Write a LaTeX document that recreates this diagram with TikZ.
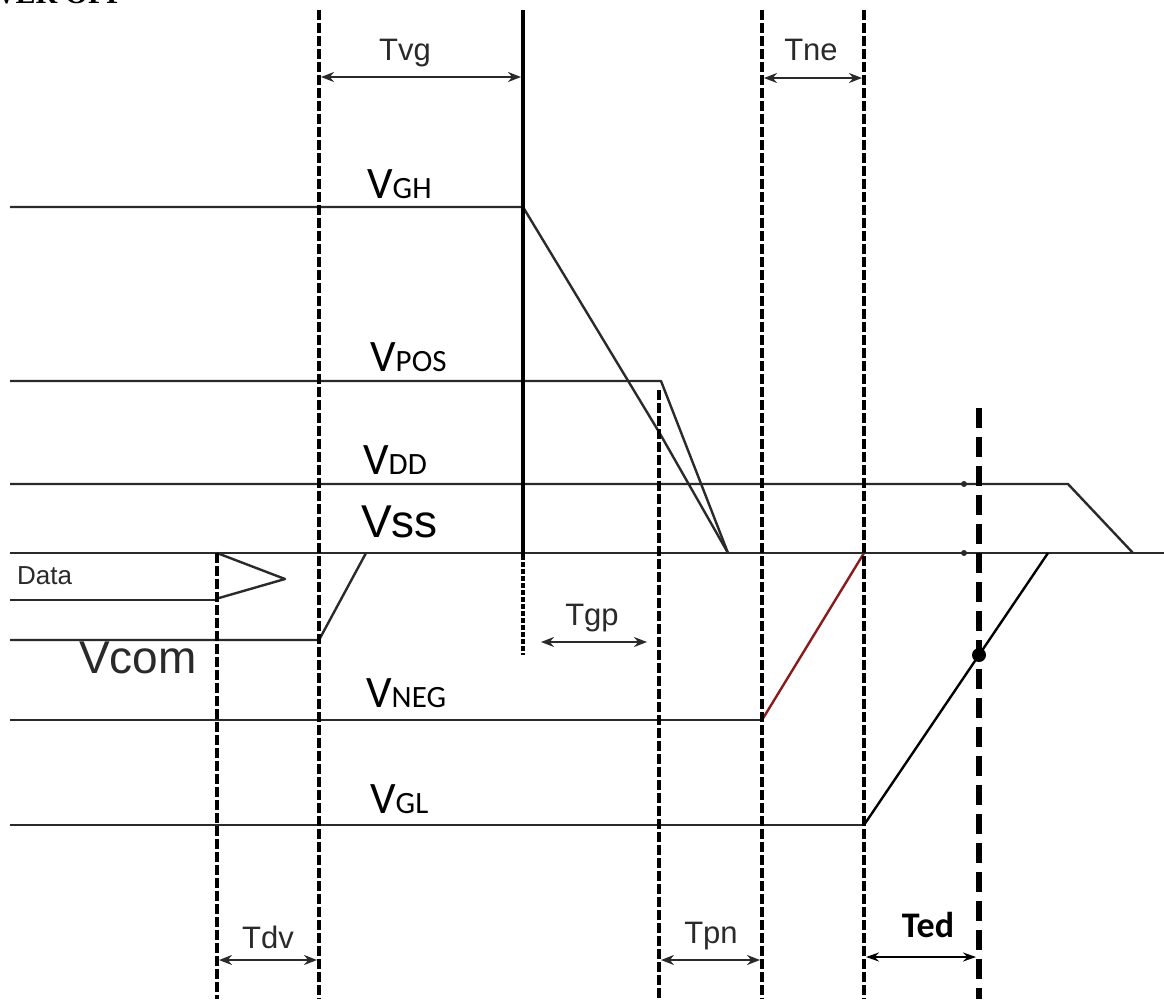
\documentclass[tikz,border=0pt]{standalone}
\usepackage{fontspec}
\setmainfont{Liberation Sans}
\newfontfamily\calfont{Carlito}
\newfontfamily\titlefont{Liberation Serif}
\usetikzlibrary{arrows.meta}
\definecolor{sigcol}{HTML}{2A2A2A}
\definecolor{redline}{HTML}{8B1A1A}
\tikzset{
  sig/.style={line width=2.4pt, draw=sigcol, line join=round},
  vdash/.style={line width=3.4pt, draw=black, dash pattern=on 10pt off 3pt},
  vsolid/.style={line width=3.2pt, draw=black},
  vthick/.style={line width=6pt, draw=black, dash pattern=on 20pt off 9pt},
  dimline/.style={line width=2.2pt, draw=sigcol, {Stealth[length=13pt,width=10pt]}-{Stealth[length=13pt,width=10pt]}},
  tlab/.style={inner sep=0pt, text=sigcol, font=\fontsize{31}{31}\selectfont},
  vlab/.style={inner sep=0pt, anchor=base west, text=black},
}
\newcommand{\Vlab}[1]{{\calfont\fontsize{45}{45}\selectfont V\fontsize{31}{31}\selectfont #1}}
\begin{document}
\begin{tikzpicture}[x=1pt,y=-1pt]
\clip (0,0) rectangle (1164,999);
\fill[white] (0,0) rectangle (1164,999);

% title (cut off at the top edge, as in the reference)
\node[inner sep=0pt, anchor=base east, font=\titlefont\bfseries\fontsize{30}{30}\selectfont] (title) at (125,3) {POWER OFF};

% key coordinates
\coordinate (vghA) at (10,207);
\coordinate (vghB) at (523,207);
\coordinate (vghC) at (659,432);
\coordinate (endA) at (728,553);
\coordinate (vposA) at (10,381);
\coordinate (vposB) at (661,381);
\coordinate (vddA) at (10,484);
\coordinate (vddB) at (1068,484);
\coordinate (vddC) at (1133,553);
\coordinate (vssA) at (10,553);
\coordinate (vssB) at (1164,553);
\coordinate (dataA) at (10,600);
\coordinate (dataB) at (218,600);
\coordinate (triT) at (217,553);
\coordinate (triP) at (285,579);
\coordinate (triB) at (219,598);
\coordinate (vcomA) at (10,640);
\coordinate (vcomB) at (319,640);
\coordinate (vcomC) at (366,553);
\coordinate (vnegA) at (10,720);
\coordinate (vnegB) at (762,720);
\coordinate (vnegC) at (864,553);
\coordinate (vglA) at (10,825);
\coordinate (vglB) at (864,825);
\coordinate (vglC) at (1048,553);

% vertical timing lines
\coordinate (l1t) at (217,553);  \coordinate (l1b) at (217,999);
\coordinate (l2t) at (319,10);   \coordinate (l2b) at (319,999);
\coordinate (l3t) at (523,10);   \coordinate (l3m) at (523,555); \coordinate (l3b) at (523,655);
\coordinate (l4t) at (659,390);  \coordinate (l4b) at (659,999);
\coordinate (l5t) at (762,10);   \coordinate (l5b) at (762,999);
\coordinate (l6t) at (864,10);   \coordinate (l6b) at (864,999);
\coordinate (l7t) at (979,408);  \coordinate (l7b) at (979,999);

% signal lines
\draw[sig] (vghA) -- (vghB) -- (vghC) -- (endA);
\draw[sig] (vposA) -- (vposB) -- (endA);
\draw[sig] (vddA) -- (vddB) -- (vddC);
\draw[sig] (vssA) -- (vssB);
\draw[sig] (dataA) -- (dataB);
\draw[sig] (triT) -- (triP) -- (triB);
\draw[sig] (vcomA) -- (vcomB) -- (vcomC);
\draw[sig] (vnegA) -- (vnegB);
\draw[line width=2.4pt, draw=redline] (vnegB) -- (vnegC);
\draw[sig] (vglA) -- (vglB);
\draw[line width=2.4pt, draw=black] (vglB) -- (vglC);

\fill[sigcol] (964,484) circle (3pt);
\fill[sigcol] (964,553) circle (3pt);

% vertical lines
\draw[vdash] (l1t) -- (l1b);
\draw[vdash] (l2t) -- (l2b);
\draw[vsolid] (l3t) -- (l3m);
\draw[vdash, dash pattern=on 5pt off 2pt] (l3m) -- (l3b);
\draw[vdash] (l4t) -- (l4b);
\draw[vdash] (l5t) -- (l5b);
\draw[vdash] (l6t) -- (l6b);
\draw[vthick] (l7t) -- (l7b);

\fill[black] (979,655) circle (7pt);

% dimension arrows
\coordinate (tvgA) at (321,77);  \coordinate (tvgB) at (521,77);
\coordinate (tneA) at (764,78);  \coordinate (tneB) at (862,78);
\coordinate (tgpA) at (541,642); \coordinate (tgpB) at (647,642);
\coordinate (tdvA) at (219,960); \coordinate (tdvB) at (317,960);
\coordinate (tpnA) at (661,960); \coordinate (tpnB) at (760,960);
\coordinate (tedA) at (866,957); \coordinate (tedB) at (976,957);
\draw[dimline] (tvgA) -- (tvgB);
\draw[dimline] (tneA) -- (tneB);
\draw[dimline] (tgpA) -- (tgpB);
\draw[dimline] (tdvA) -- (tdvB);
\draw[dimline] (tpnA) -- (tpnB);
\draw[line width=2pt, draw=black, {Stealth[length=13pt,width=9pt]}-{Stealth[length=13pt,width=9pt]}] (tedA) -- (tedB);

% dimension labels
\node[tlab, anchor=base] (ltvg) at (405,60) {Tvg};
\node[tlab, anchor=base] (ltne) at (811,60) {Tne};
\node[tlab, anchor=base] (ltgp) at (592,625) {Tgp};
\node[tlab, anchor=base] (ltdv) at (268,948) {Tdv};
\node[tlab, anchor=base] (ltpn) at (711,943) {Tpn};
\node[inner sep=0pt, anchor=base, font=\calfont\bfseries\fontsize{36}{36}\selectfont] (lted) at (928,937) {Ted};

% signal labels
\node[vlab] (lvgh) at (367,198) {\Vlab{GH}};
\node[vlab] (lvpos) at (370,371) {\Vlab{POS}};
\node[vlab] (lvdd) at (363,474) {\Vlab{DD}};
\node[vlab, font=\fontsize{46}{46}\selectfont] (lvss) at (361,537) {Vss};
\node[vlab, font=\fontsize{26}{26}\selectfont, text=sigcol] (ldata) at (17,584) {Data};
\node[vlab, font=\fontsize{46}{46}\selectfont, text=sigcol] (lvcom) at (79,673) {Vcom};
\node[vlab] (lvneg) at (366,707) {\Vlab{NEG}};
\node[vlab] (lvgl) at (370,813) {\Vlab{GL}};
\end{tikzpicture}
\end{document}
